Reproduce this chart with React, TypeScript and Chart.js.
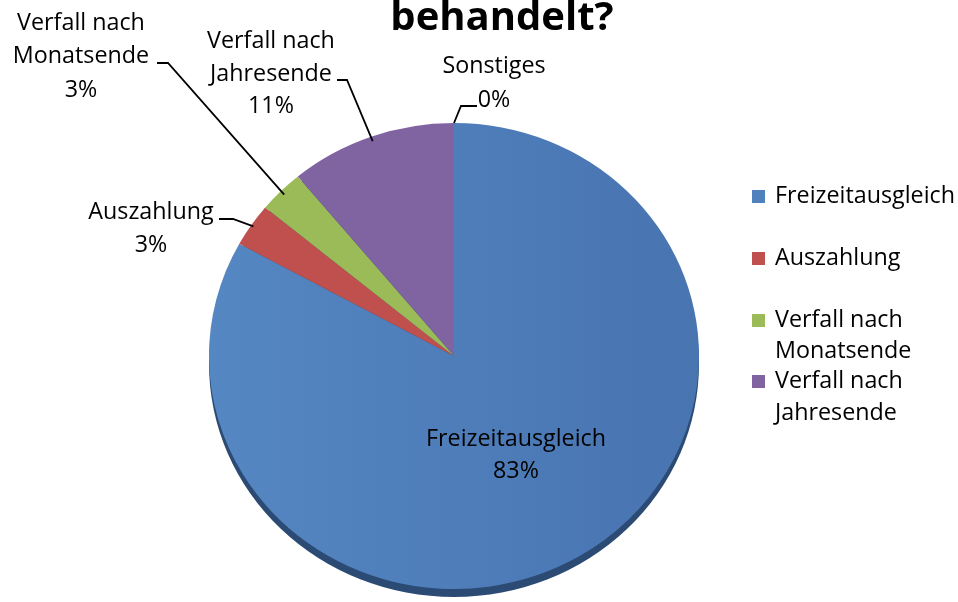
import React, { useEffect, useRef } from "react";
import { Chart, registerables } from "chart.js";

Chart.register(...registerables);

// ---- data ----
const titleText = "behandelt?";
const categories = [
  "Freizeitausgleich",
  "Auszahlung",
  "Verfall nach Monatsende",
  "Verfall nach Jahresende",
  "Sonstiges",
];
const values = [83, 3, 3, 11, 0];
const labelLines = [
  ["Freizeitausgleich"],
  ["Auszahlung"],
  ["Verfall nach", "Monatsende"],
  ["Verfall nach", "Jahresende"],
  ["Sonstiges"],
];
const legendLines = [
  ["Freizeitausgleich"],
  ["Auszahlung"],
  ["Verfall nach", "Monatsende"],
  ["Verfall nach", "Jahresende"],
];

// ---- styles / layout ----
const colors = ["#4F81BD", "#C0504D", "#9BBB59", "#8064A2", "#4BACC6"];
const rimColor = "#2B4B74";
const FONT = '"Open Sans", "DejaVu Sans", sans-serif';
const LABEL_SIZE = 23.3;
const Y_SCALE = 0.951;
const RIM = 8;

type LabelPos = {
  x: number;
  baselines: number[];
  leader?: { x1: number; x2: number; y: number; rf: number; atStart?: boolean };
};
const labelPos: LabelPos[] = [
  { x: 516, baselines: [446, 478] },
  { x: 151, baselines: [219, 252], leader: { x1: 219, x2: 233, y: 219, rf: 0.99 } },
  { x: 81, baselines: [30, 63, 97], leader: { x1: 157, x2: 168, y: 63, rf: 0.98 } },
  { x: 271, baselines: [48, 81, 113], leader: { x1: 337, x2: 347, y: 80, rf: 0.98 } },
  { x: 494, baselines: [73, 107], leader: { x1: 477, x2: 461, y: 106, rf: 1.0, atStart: true } },
];
const legendPos = {
  boxX: 752,
  textX: 775,
  box: 13,
  baselines: [[203], [265], [327, 358], [388, 420]],
};
const titlePos = { x: 502, y: 30, size: 40 };

const pieDecor = {
  id: "pieDecor",
  beforeDatasetsDraw(chart: any) {
    const ctx = chart.ctx;
    const arc = chart.getDatasetMeta(0).data[0];
    if (!arc) return;
    const { x, y, outerRadius } = arc.getProps(["x", "y", "outerRadius"], true);
    ctx.save();
    // 3D rim below the face
    ctx.beginPath();
    ctx.ellipse(x, y + RIM, outerRadius, outerRadius * Y_SCALE, 0, 0, Math.PI * 2);
    ctx.fillStyle = rimColor;
    ctx.fill();
    ctx.restore();
    ctx.save();
    ctx.translate(x, y);
    ctx.scale(1, Y_SCALE);
    ctx.translate(-x, -y);
  },
  afterDatasetsDraw(chart: any) {
    const ctx = chart.ctx;
    ctx.restore();
    const meta = chart.getDatasetMeta(0);
    const total = values.reduce((a, b) => a + b, 0);

    // labels + leaders
    ctx.save();
    ctx.fillStyle = "#000";
    ctx.strokeStyle = "#000";
    ctx.lineWidth = 1.8;
    ctx.font = `${LABEL_SIZE}px ${FONT}`;
    ctx.textAlign = "center";
    ctx.textBaseline = "alphabetic";
    meta.data.forEach((el: any, i: number) => {
      const p = labelPos[i];
      if (!p) return;
      const lines = [...labelLines[i], `${Math.round((values[i] / total) * 100)}%`];
      lines.forEach((t, k) => ctx.fillText(t, p.x, p.baselines[k]));
      if (p.leader) {
        const { x, y, startAngle, endAngle, outerRadius } = el.getProps(
          ["x", "y", "startAngle", "endAngle", "outerRadius"],
          true
        );
        const a = p.leader.atStart ? startAngle : (startAngle + endAngle) / 2;
        const r = outerRadius * p.leader.rf;
        const px = x + r * Math.cos(a);
        const py = y + r * Math.sin(a) * Y_SCALE;
        ctx.beginPath();
        ctx.moveTo(p.leader.x1, p.leader.y);
        ctx.lineTo(p.leader.x2, p.leader.y);
        ctx.lineTo(px, py);
        ctx.stroke();
      }
    });
    ctx.restore();

    // legend
    ctx.save();
    ctx.font = `${LABEL_SIZE}px ${FONT}`;
    ctx.textAlign = "left";
    ctx.textBaseline = "alphabetic";
    legendLines.forEach((lines, i) => {
      const bl = legendPos.baselines[i];
      ctx.fillStyle = colors[i];
      ctx.fillRect(legendPos.boxX, bl[0] - legendPos.box, legendPos.box, legendPos.box);
      ctx.fillStyle = "#000";
      lines.forEach((t, k) => ctx.fillText(t, legendPos.textX, bl[k]));
    });
    ctx.restore();

    // title
    ctx.save();
    ctx.font = `bold ${titlePos.size}px ${FONT}`;
    ctx.textAlign = "center";
    ctx.textBaseline = "alphabetic";
    ctx.fillStyle = "#000";
    ctx.fillText(titleText, titlePos.x, titlePos.y);
    ctx.restore();
  },
};

export default function App() {
  const ref = useRef<HTMLCanvasElement | null>(null);
  useEffect(() => {
    document.body.style.margin = "0";
    const canvas = ref.current;
    if (!canvas) return;
    const chart = new Chart(canvas, {
      type: "pie",
      data: {
        labels: categories,
        datasets: [
          {
            data: values,
            backgroundColor: (c: any) => {
              const i = c.dataIndex;
              if (i === 0 && c.chart.chartArea) {
                const { left, right } = c.chart.chartArea;
                const g = c.chart.ctx.createLinearGradient(left, 0, right, 0);
                g.addColorStop(0, "#5587C3");
                g.addColorStop(1, "#4874B0");
                return g;
              }
              return colors[i];
            },
            borderWidth: 0,
            hoverOffset: 0,
          },
        ],
      },
      options: {
        responsive: false,
        animation: false,
        devicePixelRatio: 1,
        layout: { padding: { left: 209, right: 259, top: 111, bottom: 1 } },
        plugins: {
          legend: { display: false },
          tooltip: { enabled: false },
          title: { display: false },
        },
      },
      plugins: [pieDecor],
    });
    return () => chart.destroy();
  }, []);
  return (
    <div style={{ width: 958, height: 602, background: "#fff" }}>
      <canvas ref={ref} width={958} height={602} />
    </div>
  );
}
